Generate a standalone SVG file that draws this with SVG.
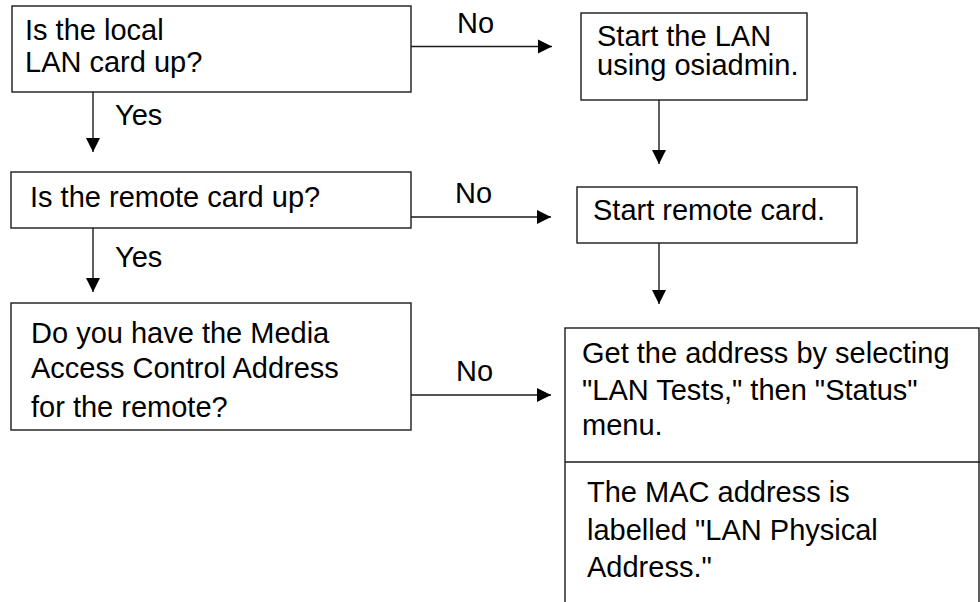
<svg xmlns="http://www.w3.org/2000/svg" width="980" height="602" viewBox="0 0 980 602">
  <style>
    .box { fill: #ffffff; stroke: #1a1a1a; stroke-width: 1.4; }
    .lbl { font-family: "Liberation Sans", Arial, sans-serif; font-size: 29px; fill: #000000; }
    .edge { fill: none; stroke: #1a1a1a; stroke-width: 1.4; }
  </style>
  <defs>
    <marker id="arrow" markerUnits="userSpaceOnUse" markerWidth="16" markerHeight="16" viewBox="0 0 16 16" refX="15" refY="8" orient="auto">
      <path d="M1,1 L15,8 L1,15 Z" fill="#000000"/>
    </marker>
  </defs>

  <rect width="980" height="602" fill="#ffffff"/>

  <!-- connectors -->
  <g id="connectors">
    <line class="edge" x1="411" y1="46.5" x2="552" y2="46.5" marker-end="url(#arrow)"/>
    <text class="lbl" x="457" y="33">No</text>
    <line class="edge" x1="93" y1="92" x2="93" y2="152" marker-end="url(#arrow)"/>
    <text class="lbl" x="115" y="125">Yes</text>
    <line class="edge" x1="659" y1="100" x2="659" y2="164" marker-end="url(#arrow)"/>
    <line class="edge" x1="411" y1="217" x2="551" y2="217" marker-end="url(#arrow)"/>
    <text class="lbl" x="455" y="203">No</text>
    <line class="edge" x1="93" y1="228" x2="93" y2="292" marker-end="url(#arrow)"/>
    <text class="lbl" x="115" y="267">Yes</text>
    <line class="edge" x1="659" y1="243" x2="659" y2="304" marker-end="url(#arrow)"/>
    <line class="edge" x1="411" y1="395" x2="551" y2="395" marker-end="url(#arrow)"/>
    <text class="lbl" x="456" y="381">No</text>
  </g>

  <g id="local-card">
    <rect class="box" x="12" y="6" width="399" height="86"/>
    <text class="lbl" x="25" y="40">Is the local</text>
    <text class="lbl" x="25" y="72">LAN card up?</text>
  </g>

  <g id="start-lan">
    <rect class="box" x="581" y="13" width="226" height="87"/>
    <text class="lbl" x="597" y="46">Start the LAN</text>
    <text class="lbl" x="597" y="75">using osiadmin.</text>
  </g>

  <g id="remote-card">
    <rect class="box" x="11" y="172" width="400" height="56"/>
    <text class="lbl" x="30" y="207">Is the remote card up?</text>
  </g>

  <g id="start-remote">
    <rect class="box" x="577" y="187" width="280" height="56"/>
    <text class="lbl" x="593" y="220">Start remote card.</text>
  </g>

  <g id="mac-question">
    <rect class="box" x="11" y="303" width="400" height="127"/>
    <text class="lbl" x="31" y="343">Do you have the Media</text>
    <text class="lbl" x="31" y="378">Access Control Address</text>
    <text class="lbl" x="31" y="417">for the remote?</text>
  </g>

  <g id="get-address">
    <rect class="box" x="565" y="328" width="414" height="300"/>
    <line class="edge" x1="565" y1="462" x2="980" y2="462"/>
    <text class="lbl" x="582" y="363">Get the address by selecting</text>
    <text class="lbl" x="582" y="400">"LAN Tests," then "Status"</text>
    <text class="lbl" x="582" y="435">menu.</text>
    <text class="lbl" x="587" y="502">The MAC address is</text>
    <text class="lbl" x="587" y="540">labelled "LAN Physical</text>
    <text class="lbl" x="587" y="577">Address."</text>
  </g>
</svg>
